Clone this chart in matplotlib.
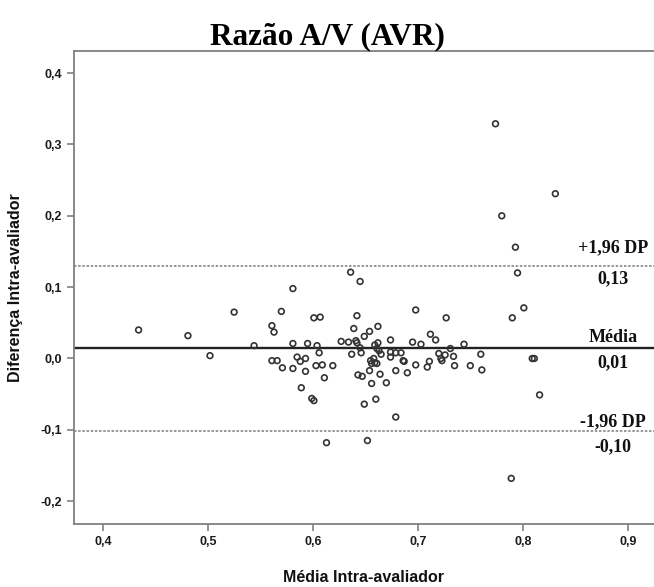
import numpy as np
import matplotlib.pyplot as plt
from matplotlib.ticker import FuncFormatter

# Bland-Altman - razão A/V, intra-avaliador
media = [0.434, 0.481, 0.502, 0.525, 0.544, 0.561, 0.563, 0.561, 0.566, 0.570,
         0.571, 0.581, 0.581, 0.581, 0.585, 0.588, 0.589, 0.593, 0.593, 0.595,
         0.599, 0.601, 0.601, 0.603, 0.604, 0.606, 0.607, 0.609, 0.611, 0.613,
         0.619, 0.627, 0.634, 0.636, 0.637, 0.639, 0.641, 0.642, 0.642, 0.643,
         0.645, 0.645, 0.646, 0.647, 0.649, 0.649, 0.652, 0.654, 0.654, 0.655,
         0.656, 0.656, 0.658, 0.659, 0.659, 0.660, 0.661, 0.661, 0.662, 0.662,
         0.663, 0.664, 0.665, 0.670, 0.674, 0.674, 0.674, 0.679, 0.679, 0.679,
         0.684, 0.686, 0.687, 0.690, 0.695, 0.698, 0.698, 0.703, 0.709, 0.711,
         0.712, 0.717, 0.720, 0.722, 0.723, 0.726, 0.727, 0.731, 0.734, 0.735,
         0.744, 0.750, 0.760, 0.761, 0.774, 0.780, 0.789, 0.790, 0.793, 0.795,
         0.801, 0.809, 0.811, 0.816, 0.831]
diferenca = [0.040, 0.032, 0.004, 0.065, 0.018, 0.046, 0.037, -0.003, -0.003, 0.066,
             -0.013, 0.098, 0.021, -0.014, 0.002, -0.004, -0.041, 0.000, -0.018, 0.021,
             -0.056, 0.057, -0.059, -0.010, 0.018, 0.008, 0.058, -0.009, -0.027, -0.118,
             -0.010, 0.024, 0.023, 0.121, 0.006, 0.042, 0.025, 0.060, 0.022, -0.023,
             0.108, 0.015, 0.008, -0.025, 0.031, -0.064, -0.115, 0.038, -0.017, -0.003,
             -0.007, -0.035, 0.000, 0.019, -0.006, -0.057, 0.014, -0.007, 0.045, 0.022,
             0.011, -0.022, 0.006, -0.034, 0.026, 0.009, 0.002, 0.008, -0.017, -0.082,
             0.008, -0.003, -0.004, -0.020, 0.023, 0.068, -0.009, 0.020, -0.012, -0.004,
             0.034, 0.026, 0.007, 0.000, -0.003, 0.005, 0.057, 0.014, 0.003, -0.010,
             0.020, -0.010, 0.006, -0.016, 0.329, 0.200, -0.168, 0.057, 0.156, 0.120,
             0.071, 0.000, 0.000, -0.051, 0.231]

media_dif = 0.015
lim_sup = 0.130
lim_inf = -0.101

xticks = [0.4, 0.5, 0.6, 0.7, 0.8, 0.9]
yticks = [-0.2, -0.1, 0.0, 0.1, 0.2, 0.3, 0.4]

virgula = FuncFormatter(lambda v, pos: f'{v:.1f}'.replace('.', ','))

fig = plt.figure(figsize=(6.54, 5.87), dpi=100)
ax = fig.add_axes([0.1124, 0.1073, 0.8876, 0.8058])

ax.scatter(media, diferenca, s=17, facecolors='none', edgecolors='#333333',
           linewidths=1.2, zorder=3)

ax.axhline(media_dif, color='#222222', lw=1.7, zorder=2)
ax.axhline(lim_sup, color='#888888', lw=1.2, linestyle=(0, (1.5, 1)), zorder=2)
ax.axhline(lim_inf, color='#888888', lw=1.2, linestyle=(0, (1.5, 1)), zorder=2)

serif = dict(family='Liberation Serif', weight='bold', fontsize=13, ha='center',
             va='center', textcoords='offset points', color='#111111')
xt = 0.886
ax.annotate('+1,96 DP', (xt, lim_sup), xytext=(0, 13), **serif)
ax.annotate(f'{lim_sup:.2f}'.replace('.', ','), (xt, lim_sup), xytext=(0, -9.5), **serif)
ax.annotate('Média', (xt, media_dif), xytext=(0, 7.5), **serif)
ax.annotate('0,01', (xt, media_dif), xytext=(0, -10.5), **serif)
ax.annotate('-1,96 DP', (xt, lim_inf), xytext=(0, 6), **serif)
ax.annotate(f'{lim_inf:.2f}'.replace('.', ','), (xt, lim_inf), xytext=(0, -11.5), **serif)

ax.set_xlim(0.372, 0.925)
ax.set_ylim(-0.232, 0.431)
ax.set_xticks(xticks)
ax.set_yticks(yticks)
ax.xaxis.set_major_formatter(virgula)
ax.yaxis.set_major_formatter(virgula)

ax.spines['right'].set_visible(False)
for s in ax.spines.values():
    s.set_color('#808080')
    s.set_linewidth(1.3)
ax.tick_params(colors='#808080', length=5, width=1.2, labelcolor='#1a1a1a')
for lab in ax.get_xticklabels() + ax.get_yticklabels():
    lab.set_family('Liberation Sans')
    lab.set_weight('bold')
    lab.set_fontsize(9)

ax.set_xlabel('Média Intra-avaliador', family='Liberation Sans', weight='bold',
              fontsize=11.5, labelpad=16, color='#111111')
ax.set_ylabel('Diferença Intra-avaliador', family='Liberation Sans', weight='bold',
              fontsize=11.5, labelpad=12, color='#111111')
fig.text(0.5, 1 - 44 / 587, 'Razão A/V (AVR)', family='Liberation Serif',
         weight='bold', fontsize=22.5, ha='center', va='baseline')

plt.savefig('out.png', dpi=100)
